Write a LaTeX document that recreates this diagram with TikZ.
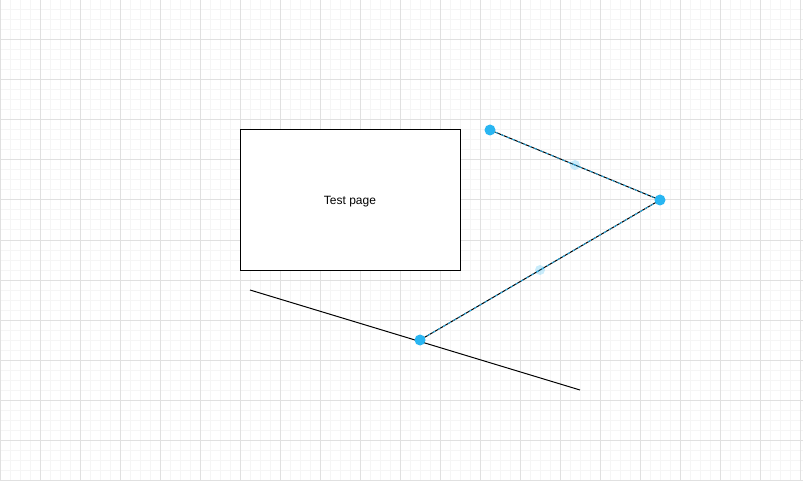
\documentclass[tikz,border=0pt]{standalone}
\usepackage{fontspec}
\setmainfont{Liberation Sans}
\definecolor{handle}{RGB}{41,182,242}
\definecolor{minorgrid}{RGB}{245,245,245}
\definecolor{majorgrid}{RGB}{224,224,224}
\tikzset{
  box/.style={draw=black, line width=1pt, fill=white, minimum width=220pt, minimum height=140pt, inner sep=0pt},
  boxtext/.style={inner sep=0pt, font=\fontsize{12}{14}\selectfont},
  handlept/.style={circle, fill=handle, inner sep=0pt, minimum size=11pt},
  midhandle/.style={circle, fill=handle, fill opacity=0.25, inner sep=0pt, minimum size=10pt},
  edge/.style={draw=black, line width=1pt},
  selected/.style={draw=handle, line width=0.8pt, dash pattern=on 3pt off 3pt},
}
\begin{document}
\begin{tikzpicture}[x=1pt,y=-1pt]
\useasboundingbox (0,0) rectangle (803,481);
\fill[white] (0,0) rectangle (803,481);
\foreach \i in {0,10,...,800} {
  \draw[minorgrid, line width=1pt] (\i,0) -- (\i,481);
}
\foreach \j in {0,10,...,480} {
  \draw[minorgrid, line width=1pt] (0,\j) -- (803,\j);
}
\foreach \i in {0,40,...,800} {
  \draw[majorgrid, line width=1pt] (\i,0) -- (\i,481);
}
\foreach \j in {0,40,...,480} {
  \draw[majorgrid, line width=1pt] (0,\j) -- (803,\j);
}
\node[box] (page) at (350,200) {};
\node[boxtext] (pagetext) at (350,202) {Test page};
\coordinate (l1) at (250,290);
\coordinate (l2) at (580,390);
\draw[edge] (l1) -- (l2);
\coordinate (p1) at (490,130);
\coordinate (p2) at (660,200);
\coordinate (p3) at (420,340);
\draw[edge] (p1) -- (p2) -- (p3);
\draw[selected] (p1) -- (p2) -- (p3);
\node[midhandle] (m1) at (575,165) {};
\node[midhandle] (m2) at (540,270) {};
\node[handlept] (h1) at (p1) {};
\node[handlept] (h2) at (p2) {};
\node[handlept] (h3) at (p3) {};
\end{tikzpicture}
\end{document}
